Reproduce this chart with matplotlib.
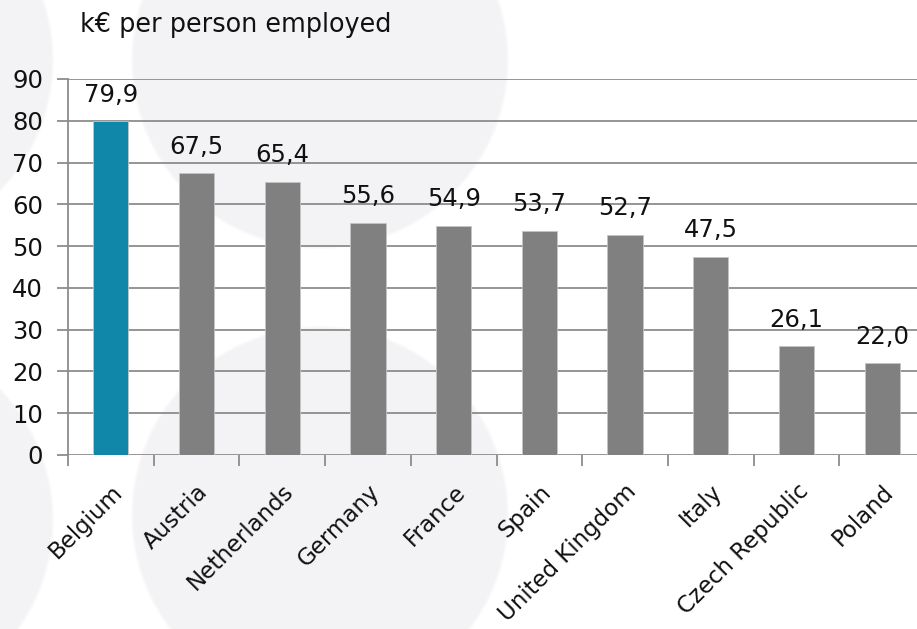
import matplotlib
matplotlib.use("Agg")
import matplotlib.pyplot as plt
from matplotlib.patches import Circle
from matplotlib.transforms import IdentityTransform
import numpy as np

# Data
countries = ["Belgium", "Austria", "Netherlands", "Germany", "France",
             "Spain", "United Kingdom", "Italy", "Czech Republic", "Poland"]
values = [79.9, 67.5, 65.4, 55.6, 54.9, 53.7, 52.7, 47.5, 26.1, 22.0]
highlight = "Belgium"
y_ticks = [0, 10, 20, 30, 40, 50, 60, 70, 80, 90]
unit_label = "k\u20ac per person employed"

W, H = 917, 629
DPI = 100
FS = 17.5
plt.rcParams["font.family"] = ["DejaVu Sans"]

fig = plt.figure(figsize=(W / DPI, H / DPI), dpi=DPI)
fig.patch.set_facecolor("white")

# Decorative background discs (pixel coordinates, origin top-left), soft rim
for cx, cy in [(320, 60), (320, 515), (-135, 60), (-135, 520)]:
    for dr, a in [(3, 0.35), (1.5, 0.6), (0, 1.0)]:
        fig.add_artist(Circle((cx, H - cy), 186 + dr, transform=IdentityTransform(),
                              facecolor="#f3f3f5", edgecolor="none", alpha=a,
                              zorder=-10))

left, right, top, bottom = 68, 925, 79, 455
ax = fig.add_axes([left / W, (H - bottom) / H, (right - left) / W, (bottom - top) / H])
ax.set_facecolor("none")

x = np.arange(len(countries))
colors = ["#1086a9" if c == highlight else "#808080" for c in countries]
ax.bar(x, values, width=0.41, color=colors, edgecolor="#c4c4c4",
       linewidth=0.6, zorder=3)

for xi, v in zip(x, values):
    ax.annotate(f"{v:.1f}".replace(".", ","), (xi, v), xytext=(0, 14),
                textcoords="offset points", ha="center", va="baseline",
                fontsize=FS, color="#111111", zorder=4)

ax.set_xlim(-0.5, len(countries) - 0.5)
ax.set_ylim(0, 90)
ax.set_yticks(y_ticks)
ax.set_yticklabels([str(t) for t in y_ticks])
ax.yaxis.grid(True, color="#8c8c8c", linewidth=1.3, zorder=0)
ax.set_axisbelow(True)

# Category boundaries carry the tick marks, centres carry the labels
ax.set_xticks(np.arange(-0.5, len(countries), 1.0))
ax.set_xticklabels([])
ax.set_xticks(x, minor=True)
ax.set_xticklabels(countries, minor=True, rotation=45, ha="right",
                   rotation_mode="anchor", fontsize=16.5, color="#111111")
ax.tick_params(axis="x", which="major", length=8, width=1.3, color="#8c8c8c",
               direction="out")
ax.tick_params(axis="x", which="minor", length=0, pad=18)
ax.tick_params(axis="y", length=8, width=1.3, color="#8c8c8c", pad=10,
               labelsize=FS, labelcolor="#111111")

for s in ["top", "right", "bottom"]:
    ax.spines[s].set_visible(False)
ax.spines["left"].set_color("#8c8c8c")
ax.spines["left"].set_linewidth(1.3)

fig.text(80 / W, 1 - 32 / H, unit_label, fontsize=18.4, color="#111111",
         ha="left", va="baseline")

fig.savefig("out.png", dpi=DPI, facecolor="white")
